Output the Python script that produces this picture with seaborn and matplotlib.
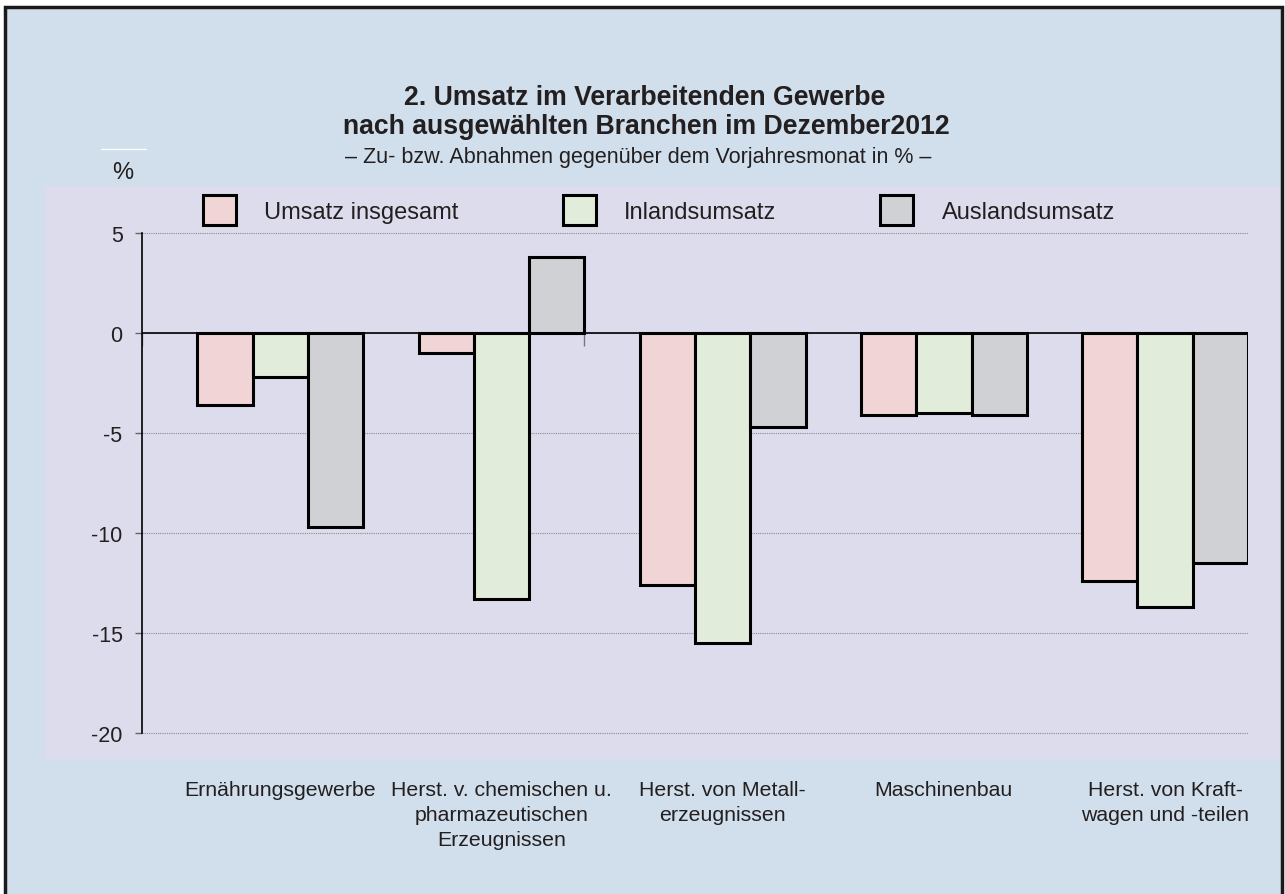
import matplotlib
matplotlib.use("Agg")
import matplotlib.pyplot as plt
import matplotlib.patches as mpatches
from matplotlib.lines import Line2D
import numpy as np
import pandas as pd
import seaborn as sns

# data
branchen = [
    "Ernährungsgewerbe",
    "Herst. v. chemischen u.\npharmazeutischen\nErzeugnissen",
    "Herst. von Metall-\nerzeugnissen",
    "Maschinenbau",
    "Herst. von Kraft-\nwagen und -teilen",
]
serien = ["Umsatz insgesamt", "Inlandsumsatz", "Auslandsumsatz"]
umsatz_insgesamt = [-3.6, -1.0, -12.6, -4.1, -12.4]
inlandsumsatz = [-2.2, -13.3, -15.5, -4.0, -13.7]
auslandsumsatz = [-9.7, 3.8, -4.7, -4.1, -11.5]
y_ticks = [5, 0, -5, -10, -15, -20]

farben = {"Umsatz insgesamt": "#f0d4d6",
          "Inlandsumsatz": "#e2ecdb",
          "Auslandsumsatz": "#d0d1d4"}

df = pd.DataFrame({
    "branche": branchen * 3,
    "serie": np.repeat(serien, len(branchen)),
    "wert": umsatz_insgesamt + inlandsumsatz + auslandsumsatz,
})

sns.set_theme(style="white")
plt.rcParams["font.family"] = ["Liberation Sans", "DejaVu Sans"]
textfarbe = "#231f20"

W, H = 1285, 895
fig = plt.figure(figsize=(W / 100, H / 100), dpi=100)
fig.patch.set_facecolor("white")

def px(x, y):
    return x / W, 1 - y / H

# outer light blue background with black frame
fig.add_artist(mpatches.Rectangle(px(5, 905), 1277 / W, 897 / H,
                                  transform=fig.transFigure, facecolor="#d0dfeb",
                                  edgecolor="#1a1a1a", linewidth=2.5, zorder=0))
# lavender plot panel
fig.add_artist(mpatches.Rectangle(px(45, 761), 1235 / W, 574 / H,
                                  transform=fig.transFigure, facecolor="#dddcec",
                                  edgecolor="none", zorder=0.5))
# small white line above %
fig.add_artist(Line2D([101 / W, 146 / W], [1 - 150 / H] * 2, color="white",
                      linewidth=1, transform=fig.transFigure, zorder=0.6))

ymin, ymax = min(y_ticks), max(y_ticks)
pad_y = 0.08
x0, y0 = px(142, 734 + pad_y * 20)
x1, y1 = px(1248, 234 - pad_y * 20)
ax = fig.add_axes([x0, y0, x1 - x0, y1 - y0])
ax.set_zorder(2)
ax.set_facecolor("none")

sns.barplot(data=df, x="branche", y="wert", hue="serie", palette=farben,
            width=0.75, gap=0, edgecolor="black", linewidth=2.2,
            saturation=1, legend=False, ax=ax, zorder=3)

n = len(branchen)
ax.set_xlim(-0.625, n - 0.625)
ax.set_ylim(ymin - pad_y, ymax + pad_y)
ax.set_yticks(y_ticks)
ax.set_yticklabels([str(t) for t in y_ticks])

ax.set_axisbelow(True)
ax.grid(axis="y", color="#8a8a8a", linestyle=(0, (1, 1)), linewidth=0.8)
ax.axhline(0, color="black", linewidth=1.2, zorder=2)
# category boundary marks below the zero line
ax.vlines(np.arange(n + 1) - 0.625, -0.65, 0, color="#777777", linewidth=1, zorder=1)

for s in ["top", "right", "bottom"]:
    ax.spines[s].set_visible(False)
ax.spines["left"].set_color("black")
ax.spines["left"].set_linewidth(1.2)
ax.spines["left"].set_bounds(ymin, ymax)
ax.spines["left"].set_zorder(4)

ax.tick_params(axis="y", left=True, length=5, width=1, color="#666666",
               pad=9, labelsize=15.5, labelcolor=textfarbe)
ax.tick_params(axis="x", bottom=False, length=0, pad=33, labelsize=15.3,
               labelcolor=textfarbe)
for lbl in ax.get_xticklabels():
    lbl.set_verticalalignment("top")
    lbl.set_linespacing(1.4)
ax.set_xlabel("")
ax.set_ylabel("")

# legend
handles = [mpatches.Patch(facecolor=farben[s], edgecolor="black", linewidth=2.2, label=s)
           for s in serien]
fig.legend(handles=handles, loc="upper left", bbox_to_anchor=px(203, 196),
           ncol=3, frameon=False, fontsize=17, handlelength=1.4,
           handleheight=1.55, handletextpad=1.2, columnspacing=4.4,
           borderpad=0, borderaxespad=0, labelcolor=textfarbe)

# titles
fig.text(645 / W, 1 - 98 / H, "2. Umsatz im Verarbeitenden Gewerbe",
         ha="center", va="center", fontsize=19.2, fontweight="bold", color=textfarbe)
fig.text(646 / W, 1 - 127 / H, "nach ausgewählten Branchen im Dezember2012",
         ha="center", va="center", fontsize=19.2, fontweight="bold", color=textfarbe)
fig.text(638 / W, 1 - 158 / H,
         "– Zu- bzw. Abnahmen gegenüber dem Vorjahresmonat in % –",
         ha="center", va="center", fontsize=15.5, color=textfarbe)
fig.text(123 / W, 1 - 173 / H, "%", ha="center", va="center", fontsize=17,
         color=textfarbe)

fig.savefig("out.png", dpi=100)
